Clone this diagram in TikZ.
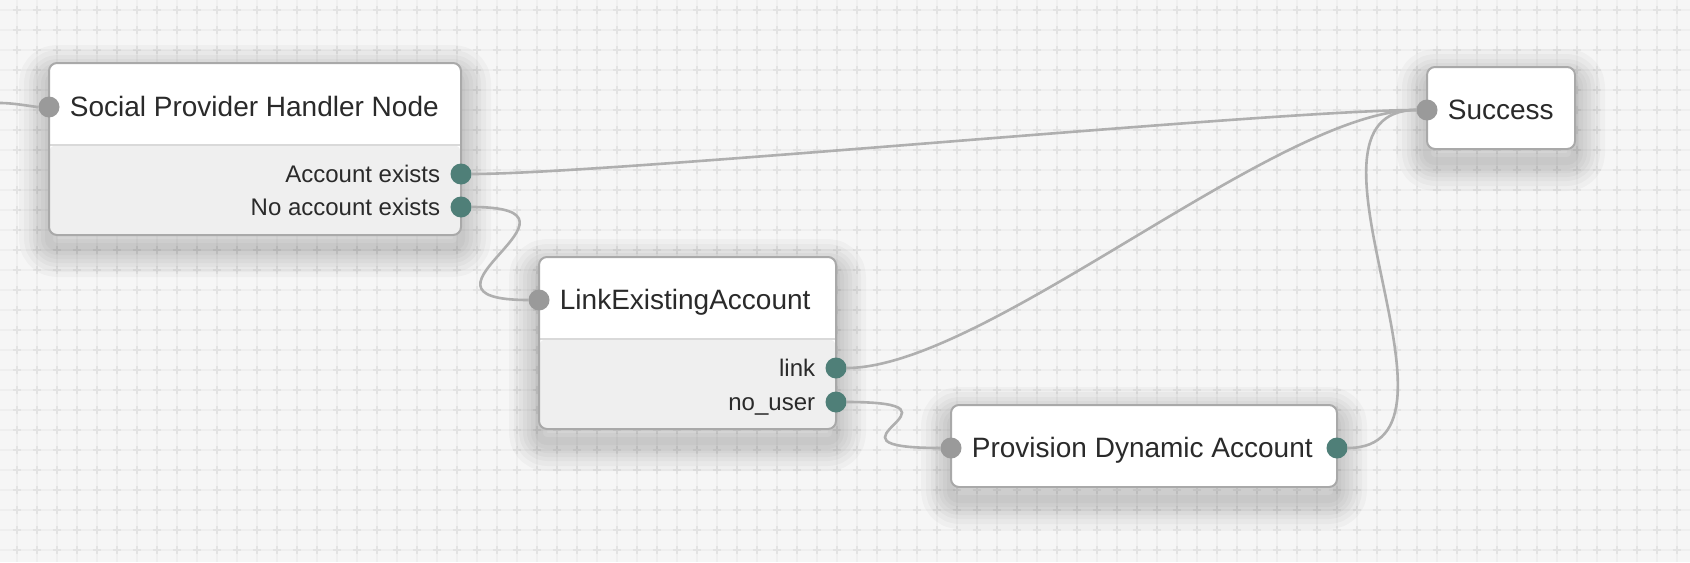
\documentclass[tikz,border=0pt]{standalone}
\usepackage{fontspec}
\setmainfont{Liberation Sans}
\usetikzlibrary{positioning}

\definecolor{canvasbg}{HTML}{F6F6F6}
\definecolor{gridline}{HTML}{EFEFEF}
\definecolor{gridmark}{HTML}{E3E3E3}
\definecolor{boxline}{HTML}{A9A9A9}
\definecolor{secfill}{HTML}{EFEFEF}
\definecolor{divline}{HTML}{D9D9D9}
\definecolor{inportc}{HTML}{9A9A9A}
\definecolor{outportc}{HTML}{4F7F78}
\definecolor{wirec}{HTML}{AFAFAF}
\definecolor{ink}{HTML}{2A2A2A}

\begin{document}
\begin{tikzpicture}[
		x=0.5pt, y=-0.5pt,
		% Define styles
		halo/.style={preaction={draw=black, line width=#1, opacity=0.028, line join=round, transform canvas={yshift=-6pt}}},
		soft shadow/.style={halo=30pt, halo=25pt, halo=20pt, halo=16pt, halo=12pt, halo=8pt, halo=4pt},
		box/.style={
			rectangle,
			draw=boxline,
			line width=1pt,
			rounded corners=4pt,
			fill=white,
			outer sep=0pt,
			anchor=north west,
			soft shadow
		},
		two part/.style={
			path picture={
				\fill[secfill] ([yshift=-41pt]path picture bounding box.north west) rectangle (path picture bounding box.south east);
				\draw[divline, line width=1pt] ([yshift=-41pt]path picture bounding box.north west) -- ([yshift=-41pt]path picture bounding box.north east);
			}
		},
		nodetitle/.style={
			font=\fontsize{14}{16}\selectfont,
			text=ink,
			inner sep=0pt,
			text height=10.5pt,
			text depth=3pt,
			yshift=-0.75pt
		},
		outlabel/.style={
			font=\fontsize{12}{14}\selectfont,
			text=ink,
			inner sep=0pt,
			text height=9pt,
			text depth=2.5pt,
			yshift=-1pt
		},
		port/.style={circle, inner sep=0pt, outer sep=0pt, minimum size=10.5pt},
		inport/.style={port, fill=inportc},
		outport/.style={port, fill=outportc},
		% Define wire style
		wire/.style={draw=wirec, line width=1.3pt}
		]
		
		\useasboundingbox (0,0) rectangle (1690,562);
		
		% ----- Canvas grid -----
		\fill[canvasbg] (0,0) rectangle (1690,562);
		\foreach \i in {0,...,84} {\draw[gridline, line width=1pt] (16.7+20*\i,0) -- (16.7+20*\i,562);}
		\foreach \j in {0,...,28} {\draw[gridline, line width=1pt] (0,10+20*\j) -- (1690,10+20*\j);}
		\foreach \i in {0,...,84} {
			\foreach \j in {0,...,27} {
				\draw[gridmark, line width=1pt] (12.7+20*\i,10+20*\j) -- ++(8,0) (16.7+20*\i,6+20*\j) -- ++(0,8);
			}
		}
		
		% ----- Nodes -----
		\node[box, two part, minimum width=206pt, minimum height=86pt] (social) at (49,63) {};
		\node[box, two part, minimum width=148.5pt, minimum height=86pt] (link) at (539,257) {};
		\node[box, minimum width=193pt, minimum height=41pt] (provision) at (951,405) {};
		\node[box, minimum width=74pt, minimum height=41pt] (success) at (1427,67) {};
		
		% ----- Ports -----
		\node[inport] (social-in) at ([yshift=-22pt]social.north west) {};
		\node[outport] (social-yes) at ([yshift=-55.5pt]social.north east) {};
		\node[outport] (social-no) at ([yshift=-72pt]social.north east) {};
		
		\node[inport] (link-in) at ([yshift=-21.5pt]link.north west) {};
		\node[outport] (link-yes) at ([yshift=-55.5pt]link.north east) {};
		\node[outport] (link-no) at ([yshift=-72.5pt]link.north east) {};
		
		\node[inport] (provision-in) at ([yshift=-21.5pt]provision.north west) {};
		\node[outport] (provision-out) at ([yshift=-21.5pt]provision.north east) {};
		
		\node[inport] (success-in) at ([yshift=-21.5pt]success.north west) {};
		
		% ----- Titles and outcome labels -----
		\node[nodetitle, right=5pt of social-in] (social-t) {Social Provider Handler Node};
		\node[outlabel, left=5pt of social-yes] (social-yes-l) {Account exists};
		\node[outlabel, left=5pt of social-no] (social-no-l) {No account exists};
		
		\node[nodetitle, right=5pt of link-in] (link-t) {LinkExistingAccount};
		\node[outlabel, left=5pt of link-yes] (link-yes-l) {link};
		\node[outlabel, left=5pt of link-no] (link-no-l) {no\_user};
		
		\node[nodetitle, right=5pt of provision-in] (provision-t) {Provision Dynamic Account};
		
		\node[nodetitle, right=5pt of success-in] (success-t) {Success};
		
		% ----- Wires -----
		\coordinate (entry) at (0,103);
		\draw[wire] (entry) .. controls +(15,0) and +(-15,0) .. (social-in);
		\draw[wire] (social-yes) .. controls +(150,0) and +(-150,0) .. (success-in);
		\draw[wire] (social-no) .. controls +(150,0) and +(-150,0) .. (link-in);
		\draw[wire] (link-yes) .. controls +(150,0) and +(-150,0) .. (success-in);
		\draw[wire] (link-no) .. controls +(150,0) and +(-150,0) .. (provision-in);
		\draw[wire] (provision-out) .. controls +(150,0) and +(-150,0) .. (success-in);
		
	\end{tikzpicture}
\end{document}
